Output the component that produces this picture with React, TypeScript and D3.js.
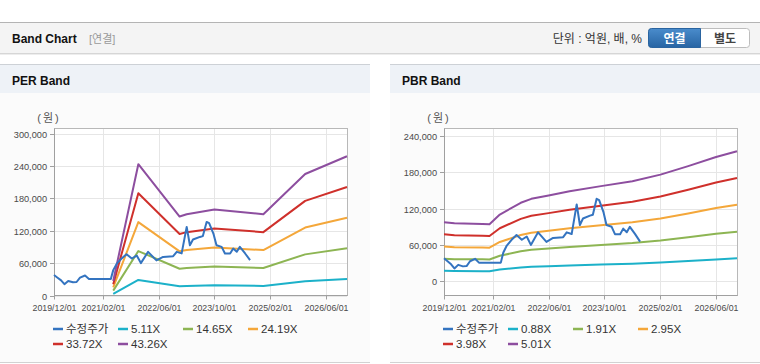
import React from 'react'
import * as d3 from 'd3'

const W = 760
const H = 364

// adjusted price (수정주가), shared by both charts
const priceDates = [
  '2019-12-01', '2020-01-01', '2020-02-01', '2020-03-01', '2020-04-03', '2020-05-15',
  '2020-06-15', '2020-07-15', '2020-08-28', '2020-10-01', '2021-04-10', '2021-05-01',
  '2021-06-01', '2021-07-13', '2021-08-25', '2021-10-10', '2021-11-22', '2021-12-28',
  '2022-03-01', '2022-05-13', '2022-07-10', '2022-10-06', '2022-11-06', '2022-12-19',
  '2023-02-01', '2023-03-01', '2023-03-28', '2023-05-28', '2023-06-22', '2023-07-25',
  '2023-08-16', '2023-09-22', '2023-10-19', '2023-12-03', '2024-01-01', '2024-02-15',
  '2024-03-13', '2024-04-13', '2024-05-10', '2024-06-25', '2024-08-07',
]
const priceValues = [
  38000, 33000, 28000, 21000, 27000, 24500,
  25000, 33000, 37000, 30700, 30700, 47000,
  59000, 68500, 76500, 68500, 74000, 60000,
  80800, 65000, 71500, 72800, 80800, 78000,
  127000, 93000, 103700, 108500, 110000, 136300,
  134000, 114800, 93000, 90000, 77800, 77800,
  87000, 81000, 90000, 77800, 65400,
]

const perDates = [
  '2021-05-01', '2021-12-06', '2022-12-01', '2023-02-01', '2023-10-01',
  '2024-12-01', '2025-12-01', '2026-12-01',
]
const perEps = [620, 5620, 3380, 3480, 3680, 3480, 5200, 5960]
const perMultiples = [5.11, 14.65, 24.19, 33.72, 43.26]

const pbrDates = [
  '2019-12-01', '2020-03-01', '2020-11-01', '2021-01-01', '2021-04-01', '2021-10-01',
  '2022-01-01', '2022-06-01', '2022-12-01', '2023-09-01', '2024-06-01', '2025-02-01',
  '2025-10-01', '2026-06-01', '2026-12-01',
]
const pbrBps = [
  19500, 19100, 18900, 18800, 22000, 25900,
  27200, 28300, 29700, 31400, 33000, 35200,
  38000, 41000, 42900,
]
const pbrMultiples = [0.88, 1.91, 2.95, 3.98, 5.01]

const xTicks = ['2019-12-01', '2021-02-01', '2022-06-01', '2023-10-01', '2025-02-01', '2026-06-01']
const perYTicks = [0, 60000, 120000, 180000, 240000, 300000]
const pbrYTicks = [0, 60000, 120000, 180000, 240000]

const priceColor = '#3474c0'
const bandColors = ['#1cb1c9', '#8db553', '#f4a73a', '#cf302b', '#8d4e9f']

const FONT = "'Liberation Sans', Arial, 'Noto Sans CJK KR', sans-serif"
const KFONT = "'Liberation Sans', 'Noto Sans CJK KR', sans-serif"

const parse = d3.timeParse('%Y-%m-%d')
const fmtTick = d3.timeFormat('%Y/%m/%d')
const fmtNum = d3.format(',')

interface PanelProps {
  px: number
  title: string
  yDomain: [number, number]
  yTicks: number[]
  bandDates: string[]
  bandBase: number[]
  multiples: number[]
}

function Panel({ px, title, yDomain, yTicks, bandDates, bandBase, multiples }: PanelProps) {
  const left = px + 54
  const right = px + 347
  const top = 128.5
  const bottom = 295.5

  const x = d3.scaleTime()
    .domain([parse('2019-12-01')!, parse('2026-12-01')!])
    .range([left, right])
  const y = d3.scaleLinear().domain(yDomain).range([bottom, top])

  const priceLine = d3.line<number>()
    .x((_, i) => x(parse(priceDates[i])!))
    .y(d => y(d))
  const bandLine = (m: number) => d3.line<number>()
    .x((_, i) => x(parse(bandDates[i])!))
    .y(d => y(d * m))(bandBase)

  const legend = [{ label: '수정주가', color: priceColor }].concat(
    multiples.map((m, i) => ({ label: m.toFixed(2) + 'X', color: bandColors[i] }))
  )

  return (
    <g>
      <rect x={px} y={64} width={370} height={1} fill="#cdd1d6" />
      <rect x={px} y={65} width={370} height={28} fill="#eef2f7" />
      <rect x={px} y={93} width={370} height={269} fill="#fbfbfb" />
      <rect x={px} y={362} width={370} height={1} fill="#d2d2d2" />
      <text x={px + 12} y={85} fontFamily={FONT} fontSize={12} fontWeight="bold" fill="#111">{title}</text>

      <rect x={left} y={top} width={right - left} height={bottom - top} fill="#fff" />
      {yTicks.map(t => (
        <line key={'g' + t} x1={left} x2={right} y1={Math.round(y(t)) + 0.5} y2={Math.round(y(t)) + 0.5} stroke="#e6e6e6" />
      ))}
      {xTicks.map(t => {
        const xx = Math.round(x(parse(t)!)) + 0.5
        return <line key={'v' + t} x1={xx} x2={xx} y1={top} y2={bottom} stroke="#e6e6e6" />
      })}
      <rect x={left + 0.5} y={top} width={right - left} height={bottom - top} fill="none" stroke="#b8b8b8" />
      <line x1={left + 0.5} x2={left + 0.5} y1={top} y2={bottom} stroke="#a0a0a0" />
      <line x1={left} x2={right + 0.5} y1={bottom} y2={bottom} stroke="#a0a0a0" />

      {yTicks.map(t => {
        const yy = Math.round(y(t)) + 0.5
        return (
          <g key={'yt' + t}>
            <line x1={left - 4} x2={left} y1={yy} y2={yy} stroke="#a0a0a0" />
            <text x={left - 7} y={yy} dy="0.33em" textAnchor="end" fontFamily={FONT} fontSize={9.2} fill="#4a4a4a">{fmtNum(t)}</text>
          </g>
        )
      })}
      {xTicks.map(t => {
        const xx = Math.round(x(parse(t)!)) + 0.5
        return (
          <g key={'xt' + t}>
            <line x1={xx} x2={xx} y1={bottom} y2={bottom + 4} stroke="#a0a0a0" />
            <text x={xx} y={311} textAnchor="middle" fontFamily={FONT} fontSize={8.8} fill="#4a4a4a">{fmtTick(parse(t)!)}</text>
          </g>
        )
      })}
      <text x={left - 5} y={122} textAnchor="middle" fontFamily={KFONT} fontSize={11} letterSpacing={2} fill="#555">(원)</text>

      {multiples.map((m, i) => (
        <path key={'b' + m} d={bandLine(m) || ''} fill="none" stroke={bandColors[i]} strokeWidth={2} strokeLinejoin="round" />
      ))}
      <path d={priceLine(priceValues) || ''} fill="none" stroke={priceColor} strokeWidth={2} strokeLinejoin="round" />

      {legend.map((it, i) => {
        const lx = left - 1 + (i % 4) * 65
        const ly = 329 + Math.floor(i / 4) * 15
        return (
          <g key={'l' + i}>
            <line x1={lx} x2={lx + 10} y1={ly} y2={ly} stroke={it.color} strokeWidth={2.5} />
            <text x={lx + 13} y={ly} dy="0.35em" fontFamily={KFONT} fontSize={11.5} fill="#333">{it.label}</text>
          </g>
        )
      })}
    </g>
  )
}

export default function App() {
  return (
    <div style={{ position: 'absolute', left: 0, top: 0, width: W, height: H, background: '#fff' }}>
      <svg width={W} height={H} viewBox={`0 0 ${W} ${H}`} style={{ display: 'block' }}>
        <defs>
          <linearGradient id="btnBlue" x1="0" y1="0" x2="0" y2="1">
            <stop offset="0" stopColor="#4a8ccc" />
            <stop offset="1" stopColor="#2764a3" />
          </linearGradient>
        </defs>
        <rect x={0} y={0} width={W} height={H} fill="#fff" />

        <rect x={0} y={22} width={W} height={1} fill="#b4b4b4" />
        <rect x={0} y={23} width={W} height={30} fill="#f4f4f4" />
        <rect x={0} y={53} width={W} height={1} fill="#d6d6d6" />
        <rect x={0} y={54} width={W} height={1} fill="#ededed" />
        <text x={12} y={43} fontFamily={FONT} fontSize={12} fontWeight="bold" fill="#111">Band Chart</text>
        <text x={89} y={43} fontFamily={KFONT} fontSize={11} fill="#999">[연결]</text>
        <text x={642} y={43} textAnchor="end" fontFamily={KFONT} fontSize={12} fill="#333">단위 : 억원, 배, %</text>

        <rect x={648.5} y={28.5} width={101} height={19} rx={3} fill="#fff" stroke="#bdbdbd" />
        <path d="M700.5,28.5 H651.5 A3,3 0 0 0 648.5,31.5 V44.5 A3,3 0 0 0 651.5,47.5 H700.5 Z" fill="url(#btnBlue)" stroke="#2a64a0" />
        <text x={674.5} y={42.5} textAnchor="middle" fontFamily={KFONT} fontSize={12} fontWeight="bold" fill="#fff">연결</text>
        <text x={725} y={42.5} textAnchor="middle" fontFamily={KFONT} fontSize={12} fontWeight="bold" fill="#444">별도</text>

        <Panel px={0} title="PER Band" yDomain={[0, 309300]} yTicks={perYTicks}
          bandDates={perDates} bandBase={perEps} multiples={perMultiples} />
        <Panel px={390} title="PBR Band" yDomain={[-23700, 252700]} yTicks={pbrYTicks}
          bandDates={pbrDates} bandBase={pbrBps} multiples={pbrMultiples} />
      </svg>
    </div>
  )
}
